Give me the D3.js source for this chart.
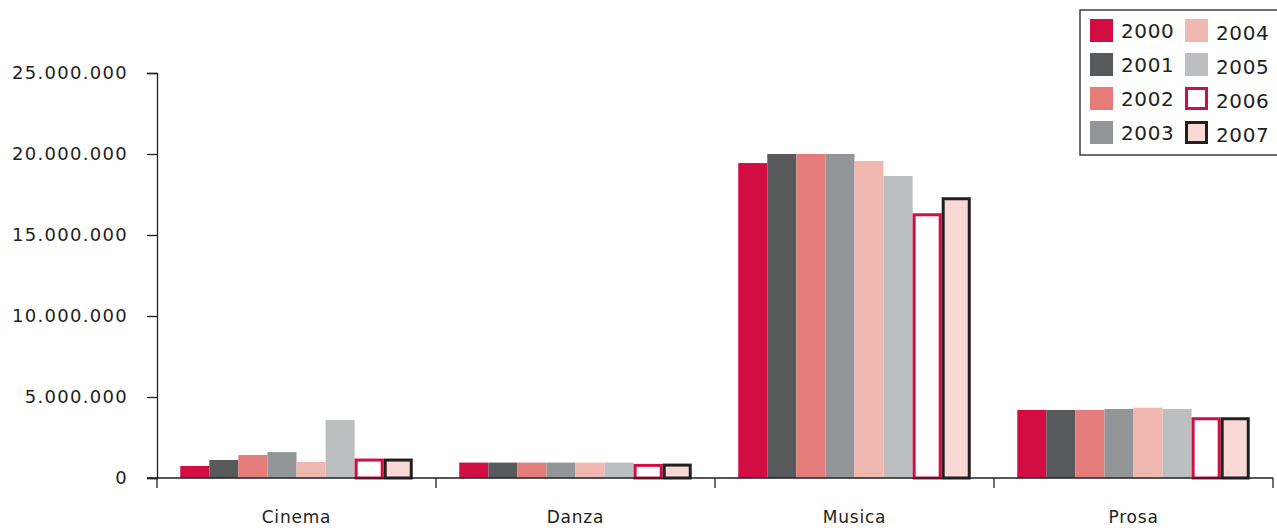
<!DOCTYPE html>
<html>
<head>
<meta charset="utf-8">
<script src="https://cdn.jsdelivr.net/npm/d3@7"></script>
<style>
body { margin: 0; background: #fff; }
text { font-family: "DejaVu Sans", sans-serif; fill: #231f20; }
</style>
</head>
<body>
<div id="grafico"></div>
<script>
// dati
var categorie = ["Cinema", "Danza", "Musica", "Prosa"];
var anni = ["2000", "2001", "2002", "2003", "2004", "2005", "2006", "2007"];
var valori = {
    "2000": [740000, 950000, 19440000, 4200000],
    "2001": [1110000, 950000, 20000000, 4200000],
    "2002": [1420000, 950000, 20000000, 4200000],
    "2003": [1600000, 950000, 20000000, 4260000],
    "2004": [990000, 950000, 19570000, 4340000],
    "2005": [3580000, 950000, 18640000, 4260000],
    "2006": [1200000, 870000, 16340000, 3750000],
    "2007": [1200000, 890000, 17330000, 3750000]
};
var tickValori = [0, 5000000, 10000000, 15000000, 20000000, 25000000];
var tickEtichette = ["0", "5.000.000", "10.000.000", "15.000.000", "20.000.000", "25.000.000"];

var riempimenti = ["#d20d44", "#58595b", "#e47c7a", "#939598", "#f1b8b2", "#bcbec0", "#ffffff", "#f8d9d6"];
var bordi = [null, null, null, null, null, null, "#d20d44", "#231f20"];

var larghezza = 1277, altezza = 528;
var svg = d3.select("#grafico").append("svg")
    .attr("width", larghezza)
    .attr("height", altezza);

var x0 = d3.scaleBand().domain(categorie).range([157, 1273]).padding(0);
var x1 = d3.scaleBand().domain(anni).range([0, x0.bandwidth()])
    .paddingInner(0).paddingOuter(0.8);
var y = d3.scaleLinear().domain([0, 25000000]).range([478, 73]);

// barre
anni.forEach(function (anno, i) {
    var sw = bordi[i] ? 3 : 0;
    svg.append("g").selectAll("rect")
        .data(valori[anno])
        .enter().append("rect")
        .attr("x", function (d, j) { return x0(categorie[j]) + x1(anno) + sw / 2; })
        .attr("y", function (d) { return y(d) + sw / 2; })
        .attr("width", x1.bandwidth() - sw)
        .attr("height", function (d) { return y(0) - y(d) - sw / 2; })
        .attr("fill", riempimenti[i])
        .attr("stroke", bordi[i] || "none")
        .attr("stroke-width", sw);
});

// asse y
var assey = svg.append("g").attr("transform", "translate(157,0)")
    .call(d3.axisLeft(y).tickValues(tickValori)
        .tickFormat(function (d, i) { return tickEtichette[i]; })
        .tickSize(10).tickPadding(19));
assey.selectAll("text")
    .style("font-size", "18px")
    .style("letter-spacing", "1.3px")
    .attr("fill", "#231f20");
assey.select(".domain").attr("stroke", "#231f20").attr("stroke-width", 1.3);
assey.selectAll(".tick line").attr("stroke", "#231f20").attr("stroke-width", 1.3);

// asse x
svg.append("line")
    .attr("x1", 147).attr("x2", 1273)
    .attr("y1", y(0)).attr("y2", y(0))
    .attr("stroke", "#231f20").attr("stroke-width", 1.3);
var confini = categorie.map(function (c) { return x0(c); }).concat([x0.range()[1]]);
svg.append("g").selectAll("line")
    .data(confini)
    .enter().append("line")
    .attr("x1", function (d) { return d; })
    .attr("x2", function (d) { return d; })
    .attr("y1", y(0)).attr("y2", y(0) + 10)
    .attr("stroke", "#231f20").attr("stroke-width", 1.3);
svg.append("g").selectAll("text")
    .data(categorie)
    .enter().append("text")
    .attr("x", function (d) { return x0(d) + x0.bandwidth() / 2; })
    .attr("y", 523)
    .attr("text-anchor", "middle")
    .style("font-size", "17px")
    .style("letter-spacing", "0.8px")
    .text(function (d) { return d; });

// legenda
var leg = svg.append("g");
leg.append("rect")
    .attr("x", 1080).attr("y", 10)
    .attr("width", 200).attr("height", 145)
    .attr("fill", "#fff").attr("stroke", "#231f20").attr("stroke-width", 1.3);
anni.forEach(function (anno, i) {
    var col = Math.floor(i / 4), riga = i % 4;
    var sx = 1090 + col * 95, sy = 19 + riga * 34;
    var sw = bordi[i] ? 3 : 0;
    leg.append("rect")
        .attr("x", sx + sw / 2).attr("y", sy + sw / 2)
        .attr("width", 23 - sw).attr("height", 23 - sw)
        .attr("fill", riempimenti[i])
        .attr("stroke", bordi[i] || "none")
        .attr("stroke-width", sw);
    leg.append("text")
        .attr("x", sx + 31).attr("y", sy + 19 + col * 2)
        .style("font-size", "20px")
        .style("letter-spacing", "0.6px")
        .text(anno);
});
</script>
</body>
</html>
